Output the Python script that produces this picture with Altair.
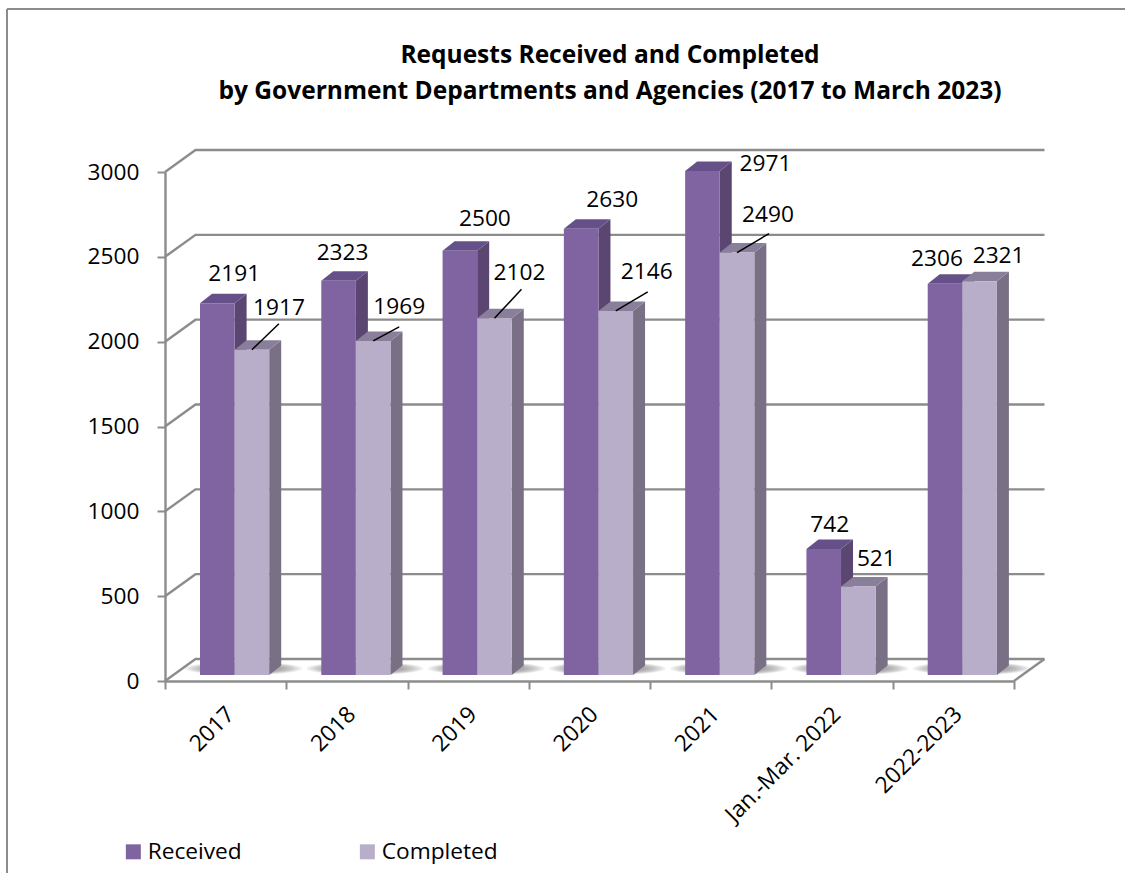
import altair as alt
import numpy as np
import pandas as pd

# Values
categories = ["2017", "2018", "2019", "2020", "2021", "Jan.-Mar. 2022", "2022-2023"]
received = [2191, 2323, 2500, 2630, 2971, 742, 2306]
completed = [1917, 1969, 2102, 2146, 2490, 521, 2321]
value_ticks = [0, 500, 1000, 1500, 2000, 2500, 3000]
title_lines = [
    "Requests Received and Completed",
    "by Government Departments and Agencies (2017 to March 2023)",
]

# Label placement, in pixels from the centre of each bar's front top edge
received_nudges = [(17, -29), (4, -28), (25, -32), (31, -29), (63, -7), (6, -24), (-8, -25)]
completed_nudges = [(27, -42), (26, -34), (25, -45), (31, -39), (31, -38), (18, -28), (19, -25)]
# Leader lines for labels sitting away from their bars: (category index, dx, dy)
leaders = [(0, 27, -26), (1, 26, -14), (2, 27, -29), (3, 32, -19), (4, 32, -19)]

# Plot geometry
PLOT_W, PLOT_H = 849, 509
PX_X = PLOT_W / 7
PX_Y = PLOT_H / 3000
ux = lambda px: px / PX_X
uy = lambda px: px / PX_Y

WALL_DX, WALL_DY = ux(30.5), uy(22)
BAR_LEFT, BAR_W = ux(35), ux(34.6)
BAR_BASE = uy(6)
DEPTH_X, DEPTH_Y = ux(12), uy(9.5)

FONT = "Open Sans"
FONT_SIZE = 22.7
GREY = "#8c8c8c"
FRONT = {"Received": "#8064A2", "Completed": "#B9AEC9"}
SIDE = {"Received": "#5A4670", "Completed": "#7A7086"}
TOP = {"Received": "#66508A", "Completed": "#8A7F9A"}

x_scale = alt.Scale(domain=[0, 7], nice=False, zero=False)
y_scale = alt.Scale(domain=[0, 3000], nice=False, zero=False)
x_axis = alt.Axis(values=list(range(8)), labels=False, grid=False, tickSize=8, tickWidth=2,
                  tickColor=GREY, domainColor=GREY, domainWidth=2.4, title=None)
y_axis = alt.Axis(values=value_ticks, grid=False, tickSize=8, tickWidth=2, tickColor=GREY,
                  domainColor=GREY, domainWidth=2.4, labelFont=FONT, labelFontSize=FONT_SIZE,
                  labelColor="#000000", labelPadding=18, format="d", title=None)


def xy(x="x", y="y"):
    return {
        "x": alt.X(f"{x}:Q", scale=x_scale, axis=x_axis),
        "y": alt.Y(f"{y}:Q", scale=y_scale, axis=y_axis),
    }


def bar_tables(series, values, slot):
    front, side, top, label = [], [], [], []
    nudges = received_nudges if series == "Received" else completed_nudges
    for i, v in enumerate(values):
        l = i + BAR_LEFT + slot * BAR_W
        r = l + BAR_W
        t = BAR_BASE + v
        front.append({"x": l, "x2": r, "y": BAR_BASE, "y2": t, "series": series})
        side += [
            {"x": r, "y": t, "y2": BAR_BASE, "k": i},
            {"x": r + DEPTH_X, "y": t + DEPTH_Y, "y2": BAR_BASE + DEPTH_Y, "k": i},
        ]
        top += [
            {"x": l, "y": t, "y2": t, "k": i},
            {"x": l + DEPTH_X, "y": t + DEPTH_Y, "y2": t, "k": i},
            {"x": r, "y": t + DEPTH_Y, "y2": t, "k": i},
            {"x": r + DEPTH_X, "y": t + DEPTH_Y, "y2": t + DEPTH_Y, "k": i},
        ]
        dx, dy = nudges[i]
        label.append({"x": (l + r) / 2 + ux(dx), "y": t - uy(dy), "text": str(v)})
    return map(pd.DataFrame, (front, side, top, label))


def face(df, color):
    return alt.Chart(df).mark_area(color=color, orient="vertical", interpolate="linear").encode(
        **xy(),
        y2="y2:Q",
        detail="k:N",
    )


# Floor and back-wall gridlines
wall_rows = []
for v in value_ticks:
    wall_rows += [
        {"x": 0, "y": v, "k": v, "o": 0},
        {"x": WALL_DX, "y": v + WALL_DY, "k": v, "o": 1},
        {"x": 7 + WALL_DX, "y": v + WALL_DY, "k": v, "o": 2},
    ]
wall_rows += [
    {"x": 7, "y": 0, "k": -1, "o": 0},
    {"x": 7 + WALL_DX, "y": WALL_DY, "k": -1, "o": 1},
]
walls = alt.Chart(pd.DataFrame(wall_rows)).mark_line(color=GREY, strokeWidth=2.4).encode(
    **xy(), detail="k:N", order="o:Q"
)

# Soft shadows on the floor: nested translucent ellipses under each pair of bars
shadow_rows = []
for i in range(len(categories)):
    cx = i + BAR_LEFT + BAR_W + ux(9)
    for n, scale in enumerate([1.08, 1.02, 0.96, 0.9, 0.84, 0.78, 0.72]):
        for t in np.linspace(0, np.pi, 25):
            half = uy(6) * scale * np.sin(t)
            shadow_rows.append({
                "x": cx - ux(54) * scale * np.cos(t),
                "y": uy(12.5) + half,
                "y2": uy(12.5) - half,
                "k": f"{i}-{n}",
            })
shadow = alt.Chart(pd.DataFrame(shadow_rows)).mark_area(
    color="#6a6a6a", opacity=0.11, orient="vertical"
).encode(**xy(), y2="y2:Q", detail="k:N")

layers = [walls, shadow]
label_tables = []
for slot, (name, vals) in enumerate([("Received", received), ("Completed", completed)]):
    front_df, side_df, top_df, label_df = bar_tables(name, vals, slot)
    label_tables.append(label_df)
    layers += [
        face(side_df, SIDE[name]),
        face(top_df, TOP[name]),
        alt.Chart(front_df).mark_rect().encode(
            **xy(),
            x2="x2:Q",
            y2="y2:Q",
            color=alt.Color(
                "series:N",
                scale=alt.Scale(domain=list(FRONT), range=list(FRONT.values())),
                legend=alt.Legend(
                    title=None, orient="none", direction="horizontal", legendX=-43, legendY=668,
                    symbolType="square", symbolSize=225, symbolStrokeWidth=0, labelFont=FONT,
                    labelFontSize=FONT_SIZE, labelColor="#000000", labelOffset=3, columnPadding=114,
                ),
            ),
        ),
    ]

# Leader lines
leader_df = pd.DataFrame(
    [
        {
            "x": i + BAR_LEFT + 1.5 * BAR_W,
            "y": BAR_BASE + completed[i],
            "x2": i + BAR_LEFT + 1.5 * BAR_W + ux(dx),
            "y2": BAR_BASE + completed[i] - uy(dy),
        }
        for i, dx, dy in leaders
    ]
)
layers.append(
    alt.Chart(leader_df).mark_rule(color="#000000", strokeWidth=1.5).encode(
        **xy(), x2="x2:Q", y2="y2:Q"
    )
)

# Bar value labels
layers.append(
    alt.Chart(pd.concat(label_tables)).mark_text(
        font=FONT, fontSize=FONT_SIZE, color="#000000", align="center", baseline="middle"
    ).encode(**xy(), text="text:N")
)

# Slanted category labels
cat_df = pd.DataFrame(
    {"x": [i + 0.5 + ux(5) for i in range(len(categories))], "y": uy(-30), "text": categories}
)
layers.append(
    alt.Chart(cat_df).mark_text(
        font=FONT, fontSize=FONT_SIZE, color="#000000", align="right", baseline="middle", angle=315
    ).encode(**xy(), text="text:N")
)

# Two-line heading, centred over the chart
title_df = pd.DataFrame({"text": title_lines, "y": [uy(681 - 55.5), uy(681 - 91.5)], "x": ux(610 - 165)})
layers.append(
    alt.Chart(title_df).mark_text(
        font=FONT, fontSize=24.5, fontWeight="bold", color="#000000", align="center", baseline="middle"
    ).encode(**xy(), text="text:N")
)

# Outer frame, open towards the bottom and right edges of the page
frame_left = alt.Chart(pd.DataFrame({"k": [0]})).mark_rule(color=GREY, strokeWidth=2).encode(
    x=alt.value(-158), y=alt.value(-163), y2=alt.value(701)
)
frame_top = alt.Chart(pd.DataFrame({"k": [0]})).mark_rule(color=GREY, strokeWidth=2).encode(
    y=alt.value(-163), x=alt.value(-158), x2=alt.value(960)
)
layers += [frame_left, frame_top]

chart = (
    alt.layer(*layers)
    .resolve_scale(x="shared", y="shared")
    .properties(
        width=PLOT_W,
        height=PLOT_H,
        padding={"left": 165, "top": 172, "right": 111, "bottom": 192},
        autosize=alt.AutoSizeParams(type="none"),
        background="#ffffff",
    )
    .configure_view(stroke=None)
)

chart.save("out.html", embed_options={"renderer": "svg", "actions": False})
